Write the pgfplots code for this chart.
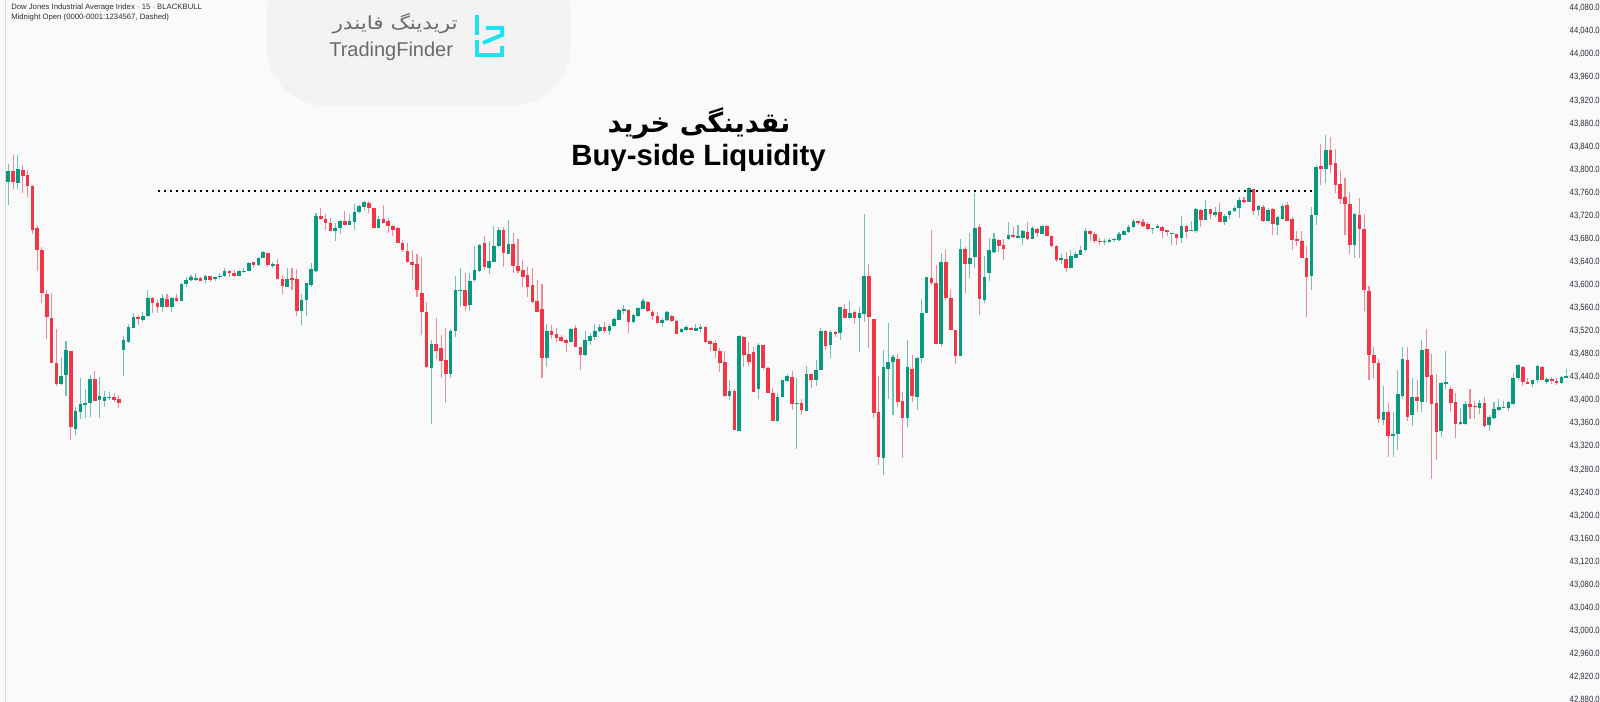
\documentclass[border=0pt]{standalone}
\usepackage{pgfplots}
\pgfplotsset{compat=1.18}
\usepackage{pgfplotstable}
\usepackage{fontspec}
\setmainfont{Liberation Sans}
\newfontfamily\labfont{Liberation Sans}[FakeStretch=0.85]
\newfontfamily\fa[Script=Arabic]{DejaVu Sans}
\TeXXeTstate=1
\definecolor{bgcol}{HTML}{FAFAFA}
\definecolor{wmcol}{HTML}{F3F3F3}
\definecolor{upcol}{HTML}{089981}
\definecolor{dncol}{HTML}{F23645}
\definecolor{upwick}{HTML}{6CC2B3}
\definecolor{dnwick}{HTML}{F08A94}
\definecolor{labcol}{HTML}{2A2E39}
\definecolor{logocyan}{HTML}{1EE2F2}
\definecolor{logogray}{HTML}{6A6A6A}

\pgfplotstableread{
i o h l c
0 43779 43810 43739 43797
1 43797 43825 43766 43779
2 43777 43826 43767 43801
3 43800 43808 43759 43789
4 43790 43799 43753 43771
5 43771 43773 43689 43696
6 43698 43704 43624 43660
7 43660 43666 43569 43586
8 43585 43591 43506 43545
9 43543 43586 43465 43465
10 43465 43523 43424 43428
11 43428 43475 43426 43443
12 43443 43503 43407 43487
13 43486 43486 43331 43353
14 43351 43389 43339 43382
15 43380 43438 43368 43394
16 43391 43420 43370 43395
17 43396 43444 43371 43437
18 43437 43450 43399 43399
19 43400 43441 43370 43407
20 43399 43416 43389 43405
21 43404 43415 43400 43406
22 43405 43412 43397 43400
23 43403 43409 43386 43396
24 43488 43511 43442 43504
25 43502 43533 43499 43527
26 43526 43551 43525 43544
27 43544 43548 43530 43541
28 43539 43553 43536 43546
29 43546 43592 43545 43577
30 43578 43579 43552 43569
31 43569 43574 43551 43562
32 43562 43584 43553 43577
33 43575 43584 43562 43562
34 43561 43579 43553 43578
35 43578 43585 43571 43572
36 43572 43603 43572 43601
37 43601 43614 43597 43608
38 43608 43617 43607 43614
39 43608 43621 43607 43613
40 43612 43614 43607 43607
41 43608 43617 43604 43615
42 43615 43616 43605 43608
43 43610 43614 43606 43614
44 43614 43620 43611 43616
45 43615 43629 43614 43625
46 43625 43626 43614 43620
47 43620 43626 43614 43616
48 43616 43626 43615 43624
49 43623 43630 43621 43625
50 43624 43640 43624 43638
51 43639 43640 43630 43634
52 43634 43649 43633 43646
53 43647 43659 43646 43657
54 43656 43656 43631 43635
55 43634 43640 43630 43636
56 43636 43645 43611 43611
57 43611 43617 43584 43598
58 43597 43629 43597 43611
59 43612 43629 43592 43610
60 43611 43627 43546 43555
61 43555 43584 43530 43574
62 43574 43603 43546 43603
63 43600 43638 43597 43627
64 43624 43725 43623 43719
65 43719 43733 43712 43714
66 43715 43723 43696 43708
67 43708 43717 43694 43694
68 43694 43707 43677 43699
69 43699 43712 43689 43711
70 43711 43729 43704 43704
71 43704 43723 43704 43711
72 43709 43740 43696 43727
73 43726 43738 43725 43737
74 43735 43746 43730 43744
75 43743 43745 43725 43734
76 43733 43733 43698 43698
77 43699 43719 43699 43714
78 43714 43738 43708 43708
79 43711 43716 43690 43702
80 43702 43704 43685 43695
81 43698 43700 43672 43672
82 43673 43678 43657 43660
83 43659 43673 43638 43640
84 43640 43660 43608 43635
85 43636 43653 43579 43591
86 43586 43648 43513 43553
87 43553 43570 43456 43458
88 43456 43504 43358 43498
89 43497 43542 43471 43486
90 43490 43514 43439 43468
91 43470 43525 43396 43445
92 43445 43523 43439 43520
93 43520 43615 43510 43591
94 43590 43630 43562 43592
95 43592 43620 43555 43564
96 43565 43620 43555 43607
97 43608 43667 43605 43626
98 43625 43671 43623 43669
99 43672 43685 43626 43631
100 43630 43676 43619 43641
101 43640 43702 43639 43667
102 43667 43701 43666 43695
103 43695 43701 43631 43655
104 43654 43712 43653 43671
105 43671 43691 43621 43633
106 43633 43679 43620 43624
107 43626 43644 43597 43614
108 43617 43631 43579 43597
109 43600 43630 43568 43570
110 43572 43609 43553 43553
111 43559 43601 43439 43474
112 43474 43533 43458 43520
113 43520 43530 43506 43513
114 43515 43525 43501 43508
115 43510 43514 43501 43503
116 43504 43507 43484 43500
117 43502 43526 43501 43524
118 43526 43531 43493 43493
119 43493 43493 43452 43478
120 43478 43520 43476 43504
121 43503 43517 43496 43511
122 43510 43532 43504 43520
123 43520 43533 43518 43527
124 43527 43536 43516 43520
125 43520 43533 43513 43529
126 43529 43545 43527 43541
127 43539 43559 43539 43557
128 43556 43565 43549 43558
129 43556 43559 43517 43536
130 43536 43550 43534 43548
131 43546 43562 43545 43560
132 43559 43575 43559 43572
133 43571 43572 43553 43555
134 43553 43557 43539 43546
135 43547 43553 43533 43534
136 43534 43542 43527 43539
137 43539 43555 43538 43553
138 43546 43548 43536 43538
139 43537 43539 43515 43515
140 43519 43525 43516 43523
141 43522 43530 43520 43527
142 43526 43527 43522 43522
143 43520 43532 43520 43526
144 43525 43532 43516 43527
145 43527 43529 43500 43502
146 43502 43504 43486 43497
147 43500 43504 43473 43486
148 43486 43490 43449 43464
149 43466 43486 43406 43407
150 43407 43435 43400 43417
151 43417 43420 43349 43349
152 43347 43513 43347 43511
153 43510 43511 43458 43479
154 43480 43501 43459 43467
155 43484 43493 43415 43415
156 43419 43499 43403 43496
157 43496 43496 43453 43456
158 43456 43458 43413 43413
159 43413 43422 43364 43364
160 43364 43413 43363 43406
161 43406 43435 43406 43435
162 43433 43446 43432 43442
163 43441 43450 43384 43393
164 43393 43438 43315 43396
165 43396 43403 43374 43384
166 43382 43460 43382 43445
167 43445 43446 43422 43436
168 43436 43470 43424 43453
169 43452 43525 43452 43520
170 43520 43522 43488 43495
171 43495 43522 43474 43518
172 43519 43520 43509 43516
173 43516 43562 43505 43561
174 43559 43567 43542 43543
175 43543 43572 43542 43552
176 43553 43556 43533 43542
177 43543 43562 43483 43552
178 43550 43723 43536 43615
179 43615 43637 43491 43545
180 43541 43541 43370 43378
181 43379 43442 43288 43301
182 43300 43487 43270 43457
183 43455 43534 43403 43467
184 43467 43478 43374 43475
185 43472 43481 43389 43397
186 43399 43415 43299 43370
187 43370 43504 43354 43458
188 43454 43478 43397 43407
189 43406 43475 43384 43474
190 43474 43575 43465 43552
191 43552 43614 43551 43614
192 43612 43695 43600 43604
193 43604 43634 43497 43497
194 43497 43655 43493 43639
195 43639 43660 43574 43577
196 43577 43591 43522 43522
197 43522 43522 43463 43477
198 43477 43679 43477 43663
199 43663 43665 43586 43636
200 43636 43690 43613 43646
201 43648 43760 43629 43698
202 43700 43705 43548 43575
203 43574 43650 43568 43614
204 43621 43682 43606 43660
205 43658 43690 43656 43679
206 43678 43679 43658 43667
207 43669 43679 43643 43662
208 43679 43709 43678 43686
209 43687 43700 43682 43683
210 43682 43704 43682 43685
211 43682 43695 43669 43693
212 43692 43709 43678 43679
213 43680 43702 43679 43698
214 43697 43698 43684 43690
215 43689 43704 43688 43702
216 43702 43704 43685 43685
217 43685 43686 43666 43668
218 43668 43669 43640 43644
219 43644 43653 43637 43646
220 43645 43657 43623 43630
221 43630 43660 43629 43650
222 43647 43657 43646 43653
223 43652 43667 43652 43660
224 43660 43698 43657 43694
225 43694 43695 43676 43689
226 43689 43691 43672 43676
227 43677 43681 43670 43675
228 43675 43679 43670 43677
229 43675 43682 43674 43678
230 43678 43682 43674 43680
231 43678 43691 43676 43688
232 43687 43696 43686 43694
233 43692 43704 43691 43700
234 43700 43714 43698 43711
235 43711 43711 43704 43709
236 43710 43715 43700 43703
237 43705 43709 43695 43697
238 43697 43699 43689 43699
239 43700 43705 43699 43702
240 43701 43702 43682 43693
241 43695 43696 43685 43691
242 43689 43691 43670 43691
243 43688 43689 43670 43681
244 43682 43719 43673 43702
245 43702 43704 43682 43692
246 43694 43711 43694 43696
247 43694 43733 43690 43731
248 43730 43731 43700 43713
249 43713 43748 43712 43731
250 43731 43732 43714 43723
251 43721 43736 43718 43727
252 43727 43743 43709 43709
253 43709 43723 43704 43720
254 43721 43729 43715 43728
255 43728 43737 43727 43733
256 43733 43752 43717 43747
257 43748 43753 43742 43744
258 43744 43770 43744 43769
259 43767 43767 43721 43729
260 43730 43739 43719 43737
261 43735 43739 43710 43711
262 43711 43733 43710 43730
263 43731 43733 43687 43705
264 43704 43719 43686 43717
265 43714 43740 43712 43737
266 43738 43744 43711 43711
267 43714 43718 43660 43678
268 43679 43694 43667 43677
269 43676 43694 43646 43646
270 43646 43667 43545 43614
271 43615 43735 43592 43721
272 43721 43808 43704 43805
273 43806 43844 43773 43802
274 43802 43860 43777 43834
275 43834 43857 43795 43808
276 43812 43835 43759 43774
277 43776 43799 43741 43749
278 43752 43785 43686 43740
279 43740 43762 43653 43669
280 43669 43725 43646 43723
281 43721 43750 43646 43697
282 43697 43724 43555 43591
283 43590 43599 43436 43478
284 43478 43492 43439 43465
285 43465 43472 43361 43367
286 43366 43425 43357 43380
287 43380 43396 43301 43338
288 43338 43380 43301 43341
289 43342 43452 43313 43411
290 43407 43493 43403 43471
291 43470 43492 43364 43371
292 43374 43438 43356 43405
293 43405 43435 43380 43399
294 43397 43504 43380 43488
295 43489 43523 43397 43441
296 43444 43480 43264 43393
297 43396 43445 43297 43345
298 43346 43432 43337 43430
299 43428 43486 43419 43431
300 43420 43423 43380 43396
301 43397 43413 43335 43359
302 43359 43386 43357 43362
303 43359 43399 43357 43393
304 43393 43419 43368 43389
305 43391 43399 43368 43389
306 43387 43400 43376 43396
307 43396 43406 43354 43356
308 43357 43374 43347 43371
309 43370 43397 43367 43385
310 43383 43403 43382 43389
311 43387 43399 43386 43389
312 43386 43399 43382 43397
313 43394 43447 43392 43438
314 43438 43463 43436 43461
315 43458 43460 43425 43432
316 43432 43438 43428 43429
317 43429 43436 43423 43435
318 43435 43461 43430 43460
319 43458 43460 43435 43435
320 43432 43440 43428 43437
321 43437 43440 43428 43433
322 43434 43438 43426 43430
323 43430 43442 43428 43440
324 43440 43455 43438 43442
}\candles

\pgfplotsset{
  candle/.style 2 args={draw=none, mark=*, mark size=0pt, mark options={draw=none, fill=none},
    forget plot, error bars/.cd, y dir=both, y explicit, error mark=none,
    error bar style={draw=#1, line width=#2, line cap=butt}},
}

\begin{document}
\begin{tikzpicture}
\fill[bgcol] (0,0) rectangle (1200pt,526.5pt);
% watermark backdrop
\fill[wmcol, rounded corners=45pt] (200pt,447pt) rectangle (428pt,560pt);

\begin{axis}[
  at={(0,0)}, anchor=south west, scale only axis,
  width=1177.5pt, height=526.5pt,
  xmin=-1.726, xmax=324.8,
  ymin=42876.7, ymax=44094.2,
  axis line style={draw=none},
  xtick=\empty,
  ytick={42880,42920,42960,43000,43040,43080,43120,43160,43200,43240,43280,43320,43360,43400,43440,43480,43520,43560,43600,43640,43680,43720,43760,43800,43840,43880,43920,43960,44000,44040,44080},
  yticklabel pos=right,
  major tick length=0pt,
  scaled y ticks=false,
  y tick label style={font=\labfont\fontsize{6.8}{8}\selectfont, text=labcol, anchor=west, inner sep=0pt, xshift=-0.4pt,
     /pgf/number format/.cd, fixed, fixed zerofill, precision=1, 1000 sep={,}, assume math mode=true},
]
% midnight vertical line
\addplot[draw=black!15, line width=0.75pt] coordinates {(-0.48,42876.7) (-0.48,44094.2)};
% wicks
\addplot[candle={upwick}{0.8pt}]
  table[x=i, y expr={\thisrow{c}>=\thisrow{o} ? (\thisrow{h}+\thisrow{l})/2 : nan},
        y error expr={(\thisrow{h}-\thisrow{l})/2}] {\candles};
\addplot[candle={dnwick}{0.8pt}]
  table[x=i, y expr={\thisrow{c}<\thisrow{o} ? (\thisrow{h}+\thisrow{l})/2 : nan},
        y error expr={(\thisrow{h}-\thisrow{l})/2}] {\candles};
% bodies
\addplot[candle={upcol}{2.7pt}]
  table[x=i, y expr={\thisrow{c}>=\thisrow{o} ? (\thisrow{o}+\thisrow{c})/2 : nan},
        y error expr={(\thisrow{c}-\thisrow{o})/2}] {\candles};
\addplot[candle={dncol}{2.7pt}]
  table[x=i, y expr={\thisrow{c}<\thisrow{o} ? (\thisrow{o}+\thisrow{c})/2 : nan},
        y error expr={(\thisrow{o}-\thisrow{c})/2}] {\candles};
% buy-side liquidity level
\addplot[black, line width=1.5pt, dash pattern=on 1.5pt off 3pt] coordinates {(31.2,43763) (272,43763)};
\end{axis}

\begin{scope}[x=0.75pt, y=-0.75pt, shift={(0pt,526.5pt)}]
% header texts
\node[anchor=base west, inner sep=0pt, text=labcol, font=\fontsize{5.8}{7}\selectfont] at (11,9.5) {Dow Jones Industrial Average Index · 15 · BLACKBULL};
\node[anchor=base west, inner sep=0pt, text=labcol, font=\fontsize{5.8}{7}\selectfont] at (11,19.5) {Midnight Open (0000-0001:1234567, Dashed)};
% logo
\node[anchor=base east, inner sep=0pt, text=logogray, font=\fa\fontsize{13.5}{15}\selectfont] at (458,30) {\scalebox{1.2}[1]{\beginR تریدینگ فایندر\endR}};
\node[anchor=base west, inner sep=0pt, text=logogray, font=\fontsize{15}{17}\selectfont] at (329,57) {TradingFinder};
\draw[logocyan, line width=3pt] (477,15) -- (477,35);
\draw[logocyan, line width=3pt, line join=miter] (477,40) -- (477,55) -- (502,55) -- (502,46);
\draw[logocyan, line width=3pt, line join=miter] (486,28) -- (502,28) -- (502,35) -- (483,43);
% titles
\node[anchor=base, inner sep=0pt, font=\fa\bfseries\fontsize{20.5}{24}\selectfont] at (699,133) {\beginR نقدینگی خرید\endR};
\node[anchor=base, inner sep=0pt, font=\bfseries\fontsize{22}{26}\selectfont] at (698.5,166) {Buy-side Liquidity};
\end{scope}
\pgfresetboundingbox
\path[use as bounding box] (0,0) rectangle (1200pt,526.5pt);
\end{tikzpicture}
\end{document}
